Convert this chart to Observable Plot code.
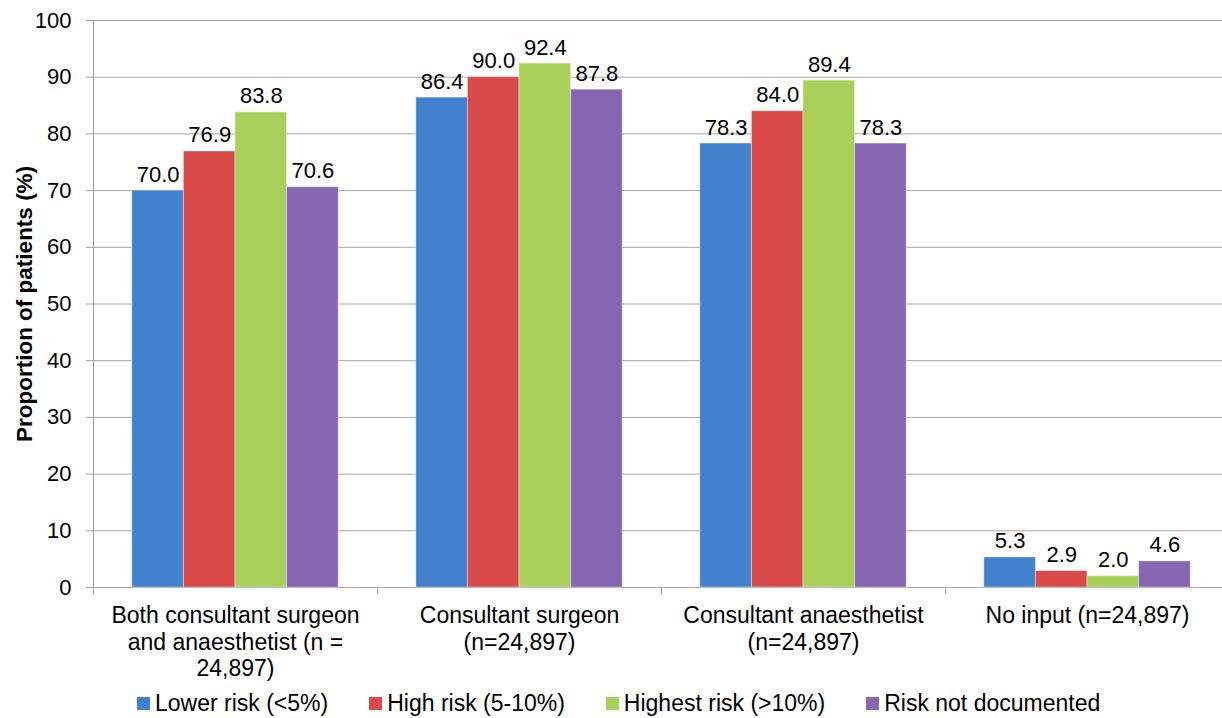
<!DOCTYPE html>
<html>
<head>
<meta charset="utf-8">
<script src="https://cdn.jsdelivr.net/npm/d3@7"></script>
<script src="https://cdn.jsdelivr.net/npm/@observablehq/plot@0.6"></script>
<style>
  html, body { margin: 0; padding: 0; background: #fff; }
  body { width: 1222px; height: 718px; overflow: hidden; font-family: "Liberation Sans", Arial, Helvetica, sans-serif; }
  #chart svg { display: block; overflow: visible; }
  #legend { display: flex; align-items: center; height: 30px; padding-left: 137px; font-size: 23px; color: #000; white-space: nowrap; }
  #legend .item { display: flex; align-items: center; margin-right: 41px; }
  #legend .sw { width: 13px; height: 13px; margin-right: 5px; }
</style>
</head>
<body>
<div id="chart"></div>
<div id="legend"></div>
<script>
const categories = [
  "Both consultant surgeon and anaesthetist (n = 24,897)",
  "Consultant surgeon (n=24,897)",
  "Consultant anaesthetist (n=24,897)",
  "No input (n=24,897)"
];
const categoryLabels = [
  "Both consultant surgeon\nand anaesthetist (n =\n24,897)",
  "Consultant surgeon\n(n=24,897)",
  "Consultant anaesthetist\n(n=24,897)",
  "No input (n=24,897)"
];
const series = ["Lower risk (<5%)", "High risk (5-10%)", "Highest risk (>10%)", "Risk not documented"];
const lowerRisk = [70.0, 86.4, 78.3, 5.3];
const highRisk = [76.9, 90.0, 84.0, 2.9];
const highestRisk = [83.8, 92.4, 89.4, 2.0];
const riskNotDocumented = [70.6, 87.8, 78.3, 4.6];
const seriesValues = [lowerRisk, highRisk, highestRisk, riskNotDocumented];
const colors = ["#4281CE", "#D84B4A", "#A9D05A", "#8766B1"];
const yTicks = [0, 10, 20, 30, 40, 50, 60, 70, 80, 90, 100];
const yTitle = "Proportion of patients (%)";

const data = [];
categories.forEach((c, i) => {
  series.forEach((s, j) => {
    data.push({category: c, series: s, value: seriesValues[j][i]});
  });
});

const font = '"Liberation Sans", Arial, Helvetica, sans-serif';

const chart = Plot.plot({
  width: 1222,
  height: 688,
  marginTop: 20,
  marginBottom: 101,
  marginLeft: 93,
  marginRight: -7,
  style: {fontFamily: font, fontSize: "22px", color: "#000", background: "#fff"},
  fx: {domain: categories, padding: 0, axis: null, round: false},
  x: {domain: series, paddingInner: 0, paddingOuter: 0.752, axis: null, round: false},
  y: {domain: [0, 100], axis: null},
  color: {domain: series, range: colors},
  marks: [
    Plot.gridY(yTicks, {stroke: "#a8a8a8", strokeOpacity: 1, strokeWidth: 1}),
    Plot.barY(data, {
      fx: "category", x: "series", y: "value", fill: "series",
      stroke: "#fff", strokeOpacity: 0.4, strokeWidth: 1
    }),
    Plot.text(data, {
      fx: "category", x: "series", y: "value",
      text: d => d3.format(".1f")(d.value),
      lineAnchor: "bottom", dy: -9, fontSize: 22, fill: "#000"
    }),
    Plot.axisY({
      ticks: yTicks, tickSize: 7, tickPadding: 15, stroke: "#a0a0a0",
      fontSize: 22, label: null, tickFormat: d => String(d)
    }),
    Plot.text(categories, {
      fx: d => d,
      text: (d, i) => categoryLabels[i],
      frameAnchor: "bottom", textAnchor: "middle", lineAnchor: "top", dy: 16, lineHeight: 1.17,
      fontSize: 23, fill: "#000"
    }),
    Plot.text([categories[0]], {
      fx: d => d,
      text: () => yTitle,
      frameAnchor: "left", textAnchor: "middle", rotate: -90, dx: -62, lineAnchor: "bottom",
      fontWeight: "bold", fontSize: 22.5, fill: "#000"
    })
  ]
});

document.getElementById("chart").appendChild(chart);

// category boundary ticks and left axis line, positioned from Plot's own scales
const fx = chart.scale("fx");
const y = chart.scale("y");
const edges = fx.domain.map(d => fx.apply(d));
edges.push(fx.apply(fx.domain[fx.domain.length - 1]) + fx.bandwidth);
const y0 = y.apply(0), yTop = y.apply(100);
const g = d3.select(chart).append("g").attr("stroke", "#a0a0a0").attr("stroke-width", 1);
g.append("line").attr("x1", edges[0] + 0.5).attr("x2", edges[0] + 0.5).attr("y1", yTop).attr("y2", y0 + 7);
edges.slice(1).forEach(x => {
  g.append("line").attr("x1", x + 0.5).attr("x2", x + 0.5).attr("y1", y0).attr("y2", y0 + 7);
});

// legend
const legend = d3.select("#legend");
series.forEach((s, j) => {
  const it = legend.append("div").attr("class", "item");
  it.append("div").attr("class", "sw").style("background", colors[j]);
  it.append("span").text(s);
});
</script>
</body>
</html>
